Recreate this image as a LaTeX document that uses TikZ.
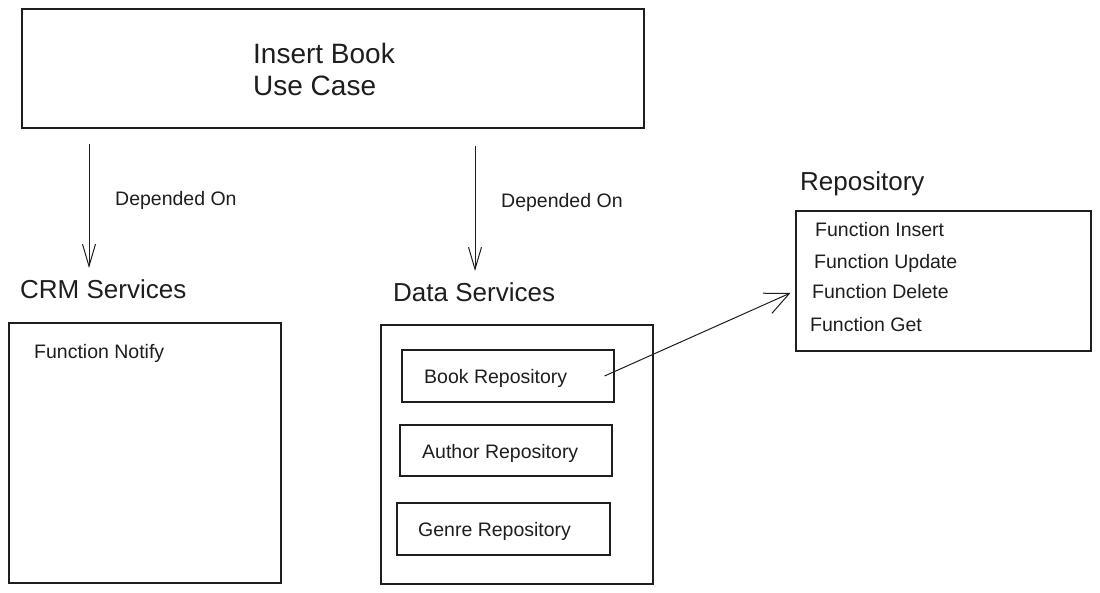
\documentclass[tikz,border=0pt]{standalone}
\usepackage{fontspec}
\setmainfont{Liberation Sans}
\usetikzlibrary{arrows.meta,calc}
\definecolor{ink}{HTML}{1E1E1E}
\begin{document}
\begin{tikzpicture}[x=1pt,y=-1pt,
  box/.style={draw=ink,line width=1.1pt,rectangle,inner sep=0pt},
  txt/.style={text=ink,inner sep=0pt,anchor=base west,font=\fontsize{19.5}{23}\selectfont},
  ttl/.style={text=ink,inner sep=0pt,anchor=base west,font=\fontsize{26}{31}\selectfont},
  arr/.style={draw=ink,line width=1pt,-{Straight Barb[length=22pt,width=13pt,line width=1pt]}},
  darr/.style={draw=ink,line width=1pt,-{Straight Barb[length=24pt,width=22pt,line width=1pt]}}]
\useasboundingbox (0,0) rectangle (1100,593);
\fill[white] (0,0) rectangle (1100,593);
% top box
\node[box,minimum width=622pt,minimum height=119pt] (usecase) at (333,68.5) {};
\node[txt,font=\fontsize{28}{33}\selectfont] (uc1) at (253,64) {Insert Book};
\node[txt,font=\fontsize{28}{33}\selectfont] (uc2) at (253,96) {Use Case};
% titles
\node[ttl] (crmt) at (20,299) {CRM Services};
\node[ttl] (datat) at (393,302) {Data Services};
\node[ttl] (repot) at (800,191) {Repository};
% arrows down
\coordinate (c1) at (89,0);
\coordinate (c2) at (475,0);
\draw[arr,shorten <=15pt,shorten >=12pt] (usecase.south -| c1) -- (crmt.north -| c1);
\draw[arr,shorten <=17pt,shorten >=12pt] (usecase.south -| c2) -- (datat.north -| c2);
\node[txt] (dep1) at (115,206) {Depended On};
\node[txt] (dep2) at (501,208) {Depended On};
% CRM box
\node[box,minimum width=272pt,minimum height=260pt] (crmbox) at (145,453) {};
\node[txt] (notify) at (34,359) {Function Notify};
% Data box
\node[box,minimum width=272pt,minimum height=259pt] (databox) at (517,454.5) {};
\node[box,minimum width=212pt,minimum height=52pt] (bookbox) at (508,376) {};
\node[txt] (bookt) at (424,383) {Book Repository};
\node[box,minimum width=212pt,minimum height=51pt] (authbox) at (506,450.5) {};
\node[txt] (autht) at (422,458) {Author Repository};
\node[box,minimum width=213pt,minimum height=52pt] (genbox) at (503.5,529) {};
\node[txt] (gent) at (418,536) {Genre Repository};
% Repository box
\node[box,minimum width=295pt,minimum height=140pt] (repobox) at (943.5,281) {};
\node[txt] (f1) at (815,237) {Function Insert};
\node[txt] (f2) at (814,269) {Function Update};
\node[txt] (f3) at (812,299) {Function Delete};
\node[txt] (f4) at (810,332) {Function Get};
% diagonal arrow
\draw[darr] ([xshift=-10pt]bookbox.east) -- ([shift={(-5pt,-12pt)}]repobox.west);
\end{tikzpicture}
\end{document}
